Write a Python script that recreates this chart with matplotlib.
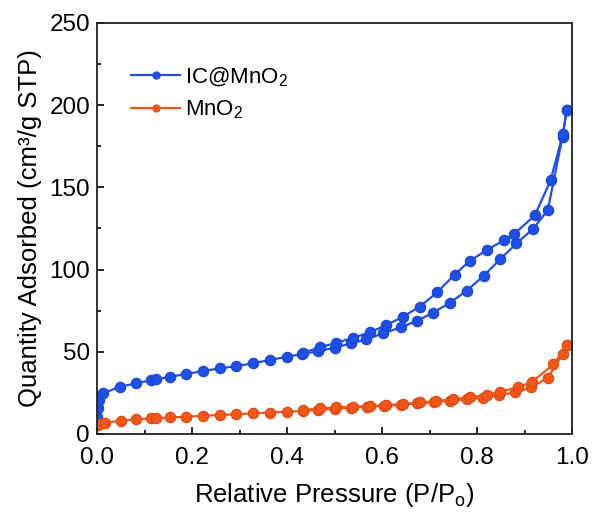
import matplotlib
matplotlib.use("Agg")
import matplotlib.pyplot as plt
from matplotlib.ticker import MultipleLocator

plt.rcParams['font.family'] = ['Liberation Sans', 'DejaVu Sans']
plt.rcParams['mathtext.default'] = 'regular'

# IC@MnO2 adsorption + desorption branches
ic_ads_x = [0.0, 0.002, 0.004, 0.013, 0.048, 0.083, 0.114, 0.125, 0.153, 0.188, 0.223,
            0.258, 0.293, 0.328, 0.364, 0.399, 0.432, 0.466, 0.500, 0.535, 0.567, 0.602,
            0.639, 0.674, 0.707, 0.743, 0.778, 0.814, 0.849, 0.883, 0.918, 0.949, 0.980, 0.989]
ic_ads_y = [10.5, 15.6, 20.7, 24.7, 28.8, 30.8, 32.8, 33.2, 34.8, 36.5, 38.3,
            39.9, 41.3, 43.0, 45.0, 47.0, 48.6, 50.4, 52.5, 55.1, 57.5, 61.2,
            64.8, 68.9, 73.7, 79.8, 87.1, 96.2, 106.4, 115.9, 124.8, 136.1, 180.7, 197.3]
ic_des_x = [0.989, 0.981, 0.955, 0.922, 0.878, 0.857, 0.820, 0.785, 0.753, 0.716, 0.679,
            0.644, 0.609, 0.574, 0.539, 0.504, 0.469, 0.434]
ic_des_y = [197.3, 182.7, 154.4, 133.1, 121.6, 117.9, 111.8, 105.3, 97.0, 86.1, 77.4,
            71.3, 66.2, 61.8, 58.5, 55.5, 52.7, 49.4]

# MnO2 adsorption + desorption branches
mn_ads_x = [0.0, 0.006, 0.016, 0.051, 0.083, 0.114, 0.125, 0.153, 0.188, 0.223, 0.258,
            0.293, 0.328, 0.364, 0.399, 0.434, 0.466, 0.500, 0.535, 0.568, 0.604, 0.639,
            0.674, 0.709, 0.744, 0.778, 0.813, 0.846, 0.881, 0.914, 0.949, 0.980, 0.989]
mn_ads_y = [5.5, 6.1, 6.9, 8.1, 8.9, 9.5, 9.5, 10.1, 10.5, 11.1, 11.5,
            12.0, 12.6, 13.0, 13.6, 14.0, 14.6, 15.4, 16.0, 16.6, 17.2, 17.8,
            18.6, 19.4, 20.3, 21.1, 22.1, 23.7, 25.3, 28.4, 34.2, 48.4, 54.1]
mn_des_x = [0.989, 0.961, 0.916, 0.886, 0.848, 0.820, 0.785, 0.749, 0.714, 0.679, 0.644,
            0.609, 0.574, 0.539, 0.504, 0.469, 0.434]
mn_des_y = [54.1, 42.3, 31.8, 28.4, 25.7, 23.7, 22.3, 21.1, 20.0, 19.2, 18.4,
            17.6, 17.0, 16.6, 16.2, 15.6, 14.6]

blue = '#1f4fe6'
orange = '#f2561a'

fig = plt.figure(figsize=(5.93, 5.15), dpi=100)
ax = fig.add_axes([97 / 593, 81 / 515, 475 / 593, 411 / 515])

mk = dict(marker='o', markersize=7.5, markeredgewidth=0.8, linewidth=1.6)
ax.plot(ic_ads_x, ic_ads_y, color=blue, markeredgecolor='#1a45c8', **mk)
ax.plot(ic_des_x, ic_des_y, color=blue, markeredgecolor='#1a45c8', **mk)
ax.plot(mn_ads_x, mn_ads_y, color=orange, markeredgecolor='#d84a12', **mk)
ax.plot(mn_des_x, mn_des_y, color=orange, markeredgecolor='#d84a12', **mk)

# legend handles
ax.plot([], [], color=blue, marker='o', markersize=5, linewidth=1.6, label=r'IC@MnO$_2$')
ax.plot([], [], color=orange, marker='o', markersize=5, linewidth=1.6, label=r'MnO$_2$')
handles, labels = ax.get_legend_handles_labels()
ax.legend(handles, labels, loc='upper left', bbox_to_anchor=(0.03, 0.945), frameon=False,
          fontsize=16, handlelength=2.2, handletextpad=0.2, labelspacing=0.45)

ax.set_xlim(0, 1.0)
ax.set_ylim(0, 250)
ax.xaxis.set_major_locator(MultipleLocator(0.2))
ax.xaxis.set_minor_locator(MultipleLocator(0.1))
ax.yaxis.set_major_locator(MultipleLocator(50))
ax.yaxis.set_minor_locator(MultipleLocator(25))
ax.tick_params(which='both', direction='in', width=1.2, labelsize=17.5)
ax.tick_params(which='major', length=5)
ax.tick_params(which='minor', length=3)
ax.tick_params(axis='x', pad=9)
ax.tick_params(axis='y', pad=5)
ax.xaxis.set_major_formatter(plt.FuncFormatter(lambda v, p: f'{v:.1f}'))
for s in ax.spines.values():
    s.set_linewidth(1.3)
    s.set_color('#222222')

ax.set_xlabel(r'Relative Pressure (P/P$_o$)', fontsize=18.5, labelpad=9)
ax.set_ylabel('Quantity Adsorbed (cm³/g STP)', fontsize=18.5, labelpad=5)

fig.savefig('out.png', dpi=100)
